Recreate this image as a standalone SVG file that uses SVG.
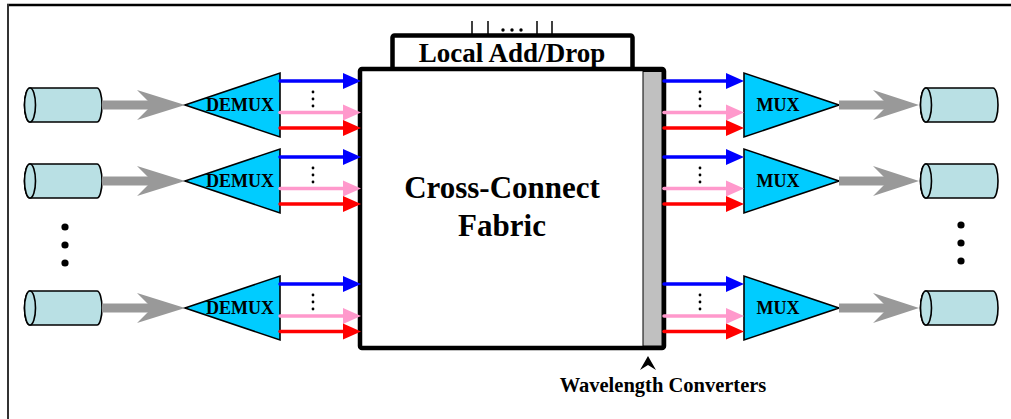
<svg xmlns="http://www.w3.org/2000/svg" xmlns:xlink="http://www.w3.org/1999/xlink" width="1011" height="419" viewBox="0 0 1011 419">
<style>
.cyl{fill:#b9e0e4;stroke:#000;stroke-width:1.6}
.tri{fill:#00ccff;stroke:#000;stroke-width:1.6;stroke-linejoin:miter}
.gray{fill:#999999}
.lab{font-family:"Liberation Serif","Times New Roman",serif;font-weight:bold;fill:#000}
.blue{stroke:#0000ff;stroke-width:3.5;fill:none;stroke-linecap:round}
.pink{stroke:#ff99cc;stroke-width:3.5;fill:none;stroke-linecap:round}
.red{stroke:#ff0000;stroke-width:3.5;fill:none;stroke-linecap:round}
.box{fill:#fff;stroke:#000;stroke-width:4.5;stroke-linejoin:round}
</style>
<defs>
<g id="cylinder">
<path class="cyl" d="M0,-17 H67 A5,17 0 0 1 67,17 H0 A5.5,17 0 0 1 0,-17 Z"/>
<ellipse class="cyl" cx="0" cy="0" rx="5.5" ry="17"/>
</g>
<g id="vdots3">
<circle cx="0" cy="-13" r="1.4"/><circle cx="0" cy="-6" r="1.4"/><circle cx="0" cy="1" r="1.4"/>
</g>
<polygon id="hb" points="-18,-8 0,0 -18,8" fill="#0000ff"/>
<polygon id="hp" points="-18,-8 0,0 -18,8" fill="#ff99cc"/>
<polygon id="hr" points="-18,-8 0,0 -18,8" fill="#ff0000"/>
</defs>
<rect width="1011" height="419" fill="#fff"/>
<!-- frame -->
<g id="frame" stroke="#000" fill="none">
<line x1="7" y1="5" x2="1011" y2="5" stroke-width="2.5"/>
<line x1="8" y1="4" x2="8" y2="419" stroke-width="2" stroke="#333"/>
</g>

<!-- left input fibers -->
<g id="fiber-in-1" transform="translate(30,105)"><use xlink:href="#cylinder"/></g>
<g id="fiber-in-2" transform="translate(30,181)"><use xlink:href="#cylinder"/></g>
<g id="fiber-in-3" transform="translate(30,308)"><use xlink:href="#cylinder"/></g>
<g id="dots-left" fill="#000">
<circle cx="65" cy="227" r="3.6"/><circle cx="65" cy="245" r="3.6"/><circle cx="65" cy="263" r="3.6"/>
</g>

<!-- demux nodes -->
<g id="demux-1">
<polygon class="tri" points="185,105 280,73 280,137"/>
<text class="lab" x="240" y="111" font-size="18" text-anchor="middle">DEMUX</text>
</g>
<g id="demux-2">
<polygon class="tri" points="185,181 280,149 280,213"/>
<text class="lab" x="240" y="187" font-size="18" text-anchor="middle">DEMUX</text>
</g>
<g id="demux-3">
<polygon class="tri" points="185,308 280,276 280,340"/>
<text class="lab" x="240" y="314" font-size="18" text-anchor="middle">DEMUX</text>
</g>

<!-- mux nodes -->
<g id="mux-1">
<polygon class="tri" points="744,73 744,137 839,105"/>
<text class="lab" x="778" y="111" font-size="18" text-anchor="middle">MUX</text>
</g>
<g id="mux-2">
<polygon class="tri" points="744,149 744,213 839,181"/>
<text class="lab" x="778" y="187" font-size="18" text-anchor="middle">MUX</text>
</g>
<g id="mux-3">
<polygon class="tri" points="744,276 744,340 839,308"/>
<text class="lab" x="778" y="314" font-size="18" text-anchor="middle">MUX</text>
</g>

<!-- right output fibers -->
<g id="fiber-out-1" transform="translate(926,105)"><use xlink:href="#cylinder"/></g>
<g id="fiber-out-2" transform="translate(926,181)"><use xlink:href="#cylinder"/></g>
<g id="fiber-out-3" transform="translate(926,308)"><use xlink:href="#cylinder"/></g>
<g id="dots-right" fill="#000">
<circle cx="961" cy="225" r="3.6"/><circle cx="961" cy="243" r="3.6"/><circle cx="961" cy="261" r="3.6"/>
</g>

<!-- local add/drop -->
<g id="local-add-drop">
<g stroke="#000" stroke-width="1.5">
<line x1="472" y1="21" x2="472" y2="35"/><line x1="488" y1="21" x2="488" y2="35"/>
<line x1="537" y1="21" x2="537" y2="35"/><line x1="552" y1="21" x2="552" y2="35"/>
</g>
<g fill="#000"><circle cx="503" cy="30" r="1.7"/><circle cx="512" cy="30" r="1.7"/><circle cx="521" cy="30" r="1.7"/></g>
<rect class="box" x="392.5" y="35.5" width="240" height="36" rx="2"/>
<text class="lab" x="512" y="62" font-size="27" text-anchor="middle">Local Add/Drop</text>
</g>

<!-- cross-connect fabric -->
<g id="cross-connect-fabric">
<rect class="box" x="360" y="69" width="304" height="279" rx="2"/>
<rect x="643" y="71.5" width="19" height="274.5" fill="#c0c0c0" stroke="#000" stroke-width="1"/>
<text class="lab" x="502" y="198" font-size="31" text-anchor="middle">Cross-Connect</text>
<text class="lab" x="502" y="236" font-size="31" text-anchor="middle">Fabric</text>
</g>

<!-- wavelength converters label -->
<g id="wavelength-converters">
<polygon points="648,356 656,370 648,365 640,370" fill="#000"/>
<text class="lab" x="663" y="392" font-size="20.5" text-anchor="middle">Wavelength Converters</text>
</g>

<!-- connectors -->
<g id="connectors">
<!-- gray fiber arrows -->
<g class="gray">
<rect x="102" y="100.5" width="52" height="9"/><polygon points="137,90 185,105 137,120 152,105"/>
<rect x="102" y="176.5" width="52" height="9"/><polygon points="137,166 185,181 137,196 152,181"/>
<rect x="102" y="303.5" width="52" height="9"/><polygon points="137,293 185,308 137,323 152,308"/>
<rect x="839" y="100.5" width="50" height="9"/><polygon points="873,90 919,105 873,120 888,105"/>
<rect x="839" y="176.5" width="50" height="9"/><polygon points="873,166 919,181 873,196 888,181"/>
<rect x="839" y="303.5" width="50" height="9"/><polygon points="873,293 919,308 873,323 888,308"/>
</g>
<!-- wavelength arrows demux -> fabric -->
<g id="left-wl">
<line class="blue" x1="280" y1="81" x2="345" y2="81"/><use xlink:href="#hb" x="361" y="81"/>
<line class="pink" x1="280" y1="112.5" x2="345" y2="112.5"/><use xlink:href="#hp" x="361" y="112.5"/>
<line class="red" x1="280" y1="128" x2="345" y2="128"/><use xlink:href="#hr" x="361" y="128"/>
<line class="blue" x1="280" y1="157" x2="345" y2="157"/><use xlink:href="#hb" x="361" y="157"/>
<line class="pink" x1="280" y1="188.5" x2="345" y2="188.5"/><use xlink:href="#hp" x="361" y="188.5"/>
<line class="red" x1="280" y1="204" x2="345" y2="204"/><use xlink:href="#hr" x="361" y="204"/>
<line class="blue" x1="280" y1="284" x2="345" y2="284"/><use xlink:href="#hb" x="361" y="284"/>
<line class="pink" x1="280" y1="316" x2="345" y2="316"/><use xlink:href="#hp" x="361" y="316"/>
<line class="red" x1="280" y1="331.5" x2="345" y2="331.5"/><use xlink:href="#hr" x="361" y="331.5"/>
<use xlink:href="#vdots3" x="313" y="105"/>
<use xlink:href="#vdots3" x="313" y="181"/>
<use xlink:href="#vdots3" x="313" y="308"/>
</g>
<!-- wavelength arrows fabric -> mux -->
<g id="right-wl">
<line class="blue" x1="664" y1="81" x2="728" y2="81"/><use xlink:href="#hb" x="744" y="81"/>
<line class="pink" x1="664" y1="112.5" x2="728" y2="112.5"/><use xlink:href="#hp" x="744" y="112.5"/>
<line class="red" x1="664" y1="128" x2="728" y2="128"/><use xlink:href="#hr" x="744" y="128"/>
<line class="blue" x1="664" y1="157" x2="728" y2="157"/><use xlink:href="#hb" x="744" y="157"/>
<line class="pink" x1="664" y1="188.5" x2="728" y2="188.5"/><use xlink:href="#hp" x="744" y="188.5"/>
<line class="red" x1="664" y1="204" x2="728" y2="204"/><use xlink:href="#hr" x="744" y="204"/>
<line class="blue" x1="664" y1="284" x2="728" y2="284"/><use xlink:href="#hb" x="744" y="284"/>
<line class="pink" x1="664" y1="316" x2="728" y2="316"/><use xlink:href="#hp" x="744" y="316"/>
<line class="red" x1="664" y1="331.5" x2="728" y2="331.5"/><use xlink:href="#hr" x="744" y="331.5"/>
<use xlink:href="#vdots3" x="700" y="105"/>
<use xlink:href="#vdots3" x="700" y="181"/>
<use xlink:href="#vdots3" x="700" y="308"/>
</g>
</g>
</svg>
